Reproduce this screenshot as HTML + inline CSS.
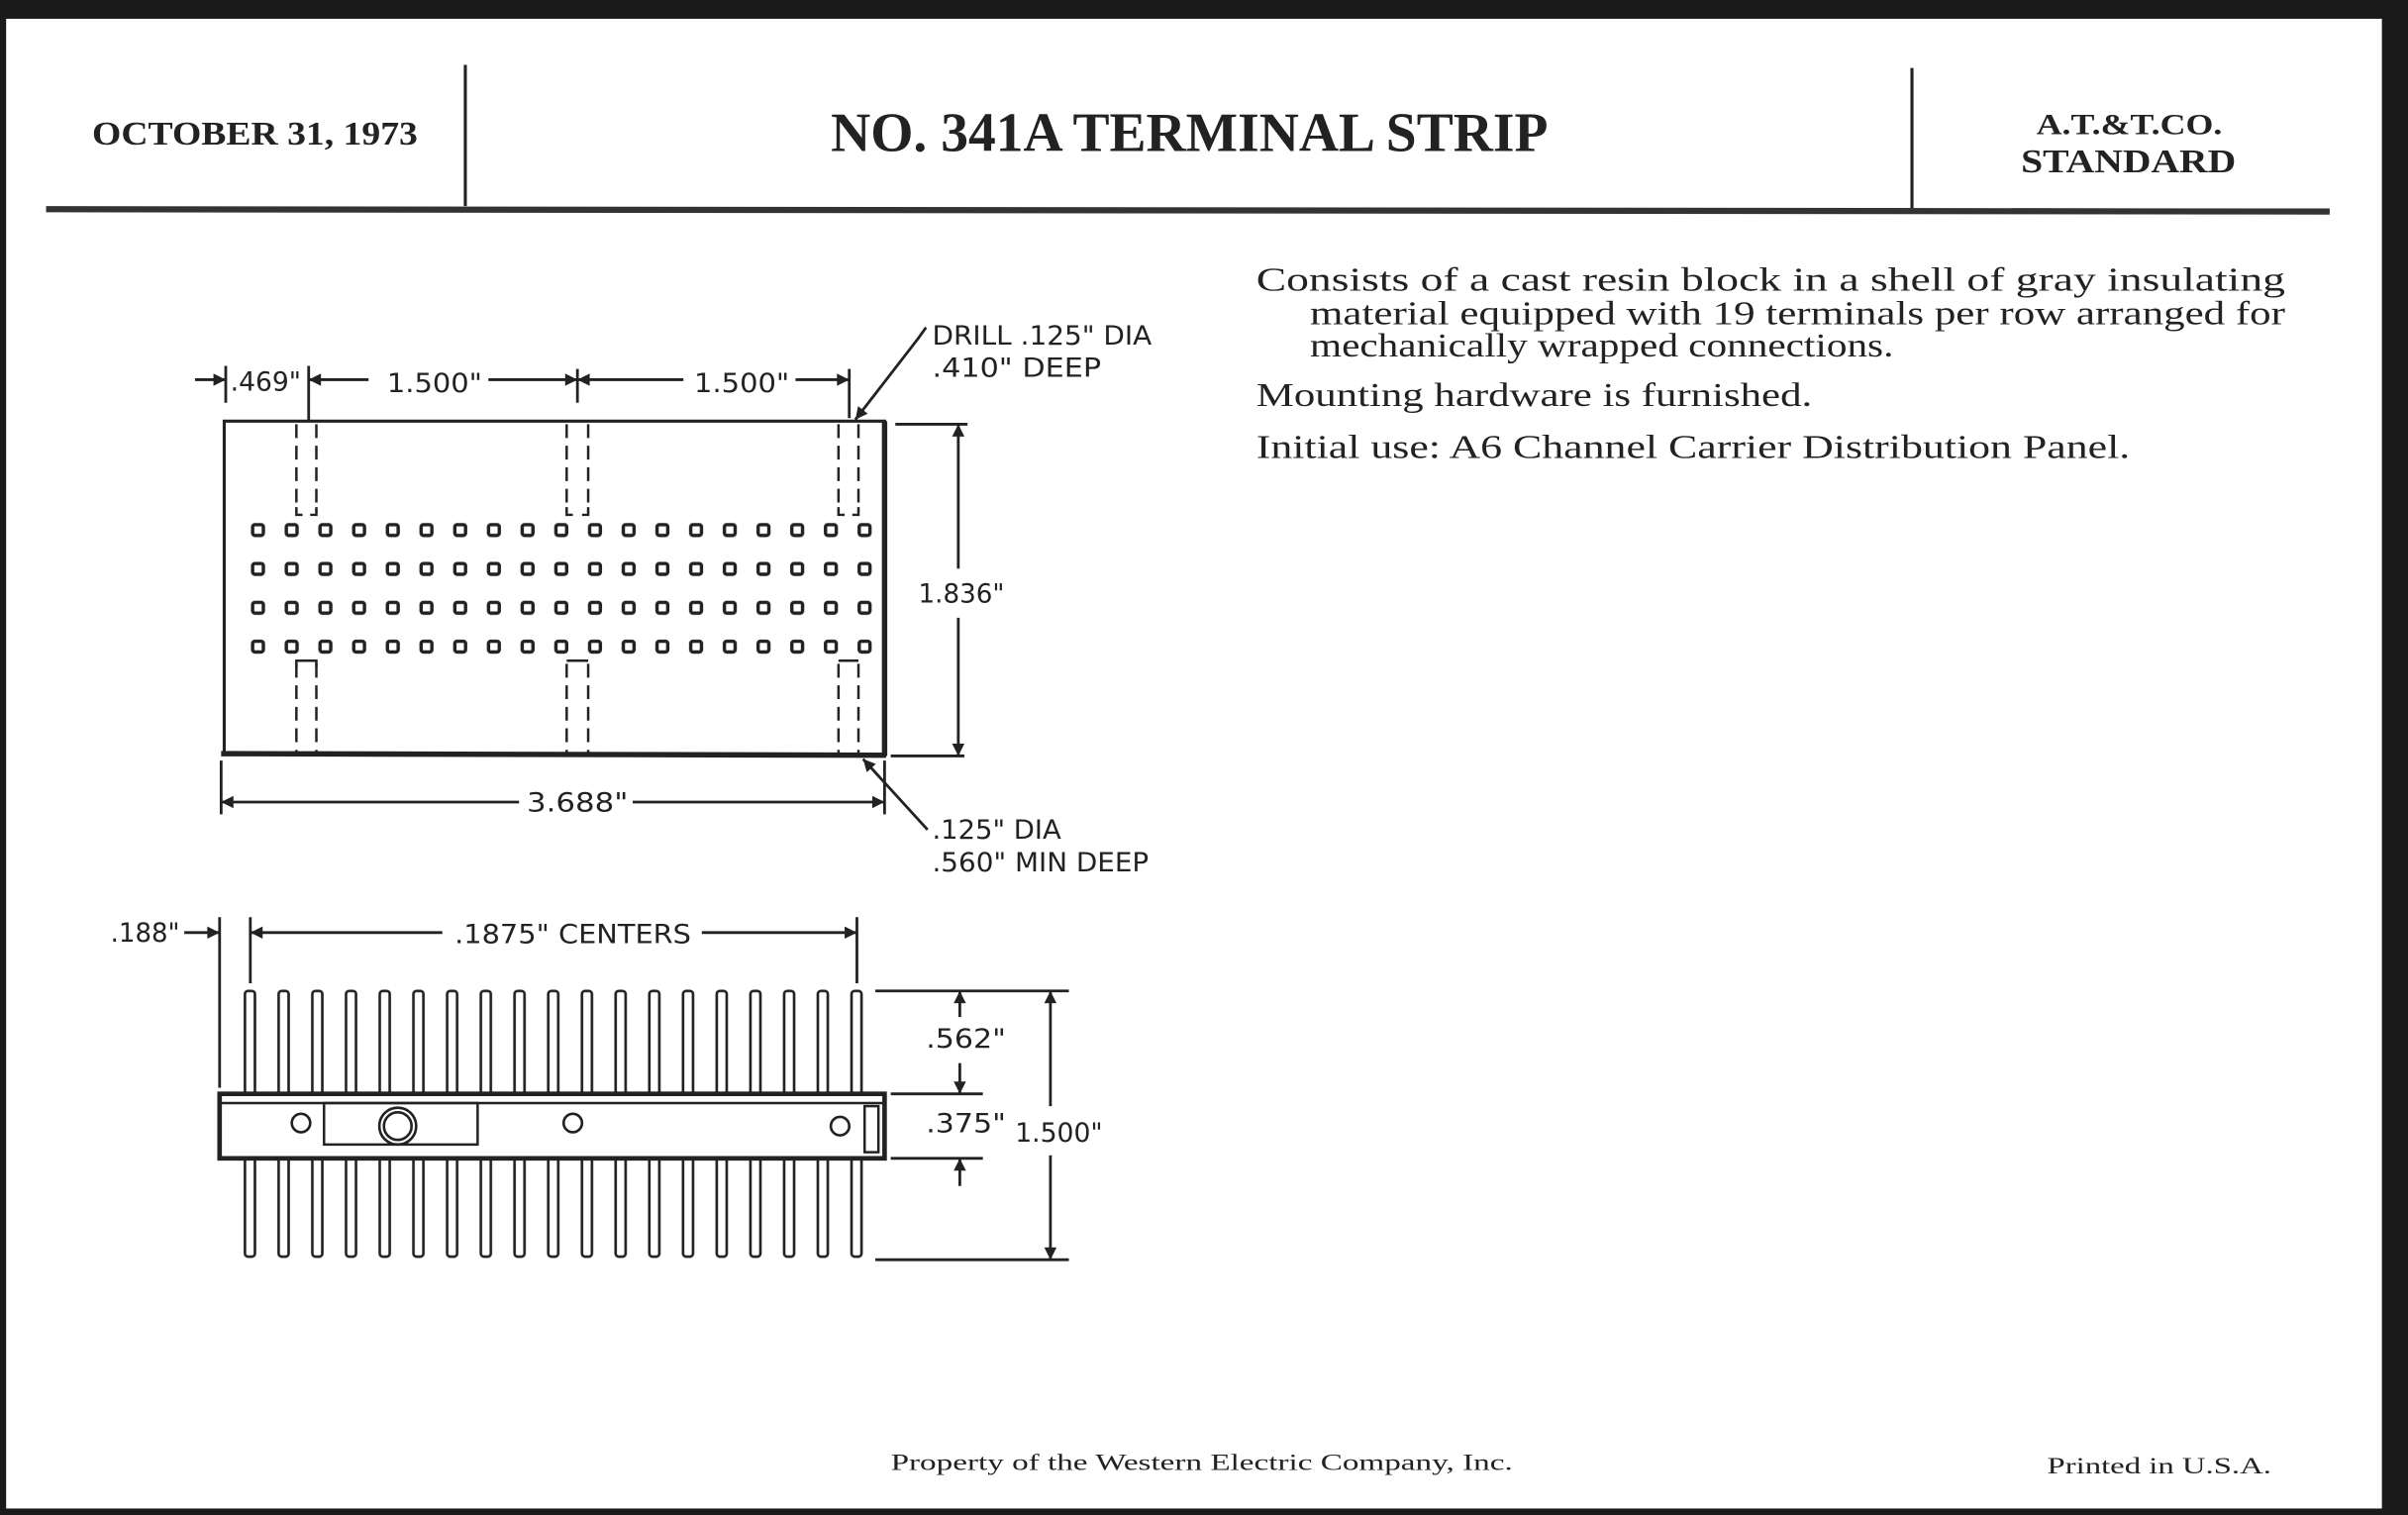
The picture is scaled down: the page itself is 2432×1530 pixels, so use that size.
<!DOCTYPE html>
<html><head><meta charset="utf-8"><style>
html,body{margin:0;padding:0;background:#1a1a1a;}
svg{display:block}
</style></head><body>
<svg width="2432" height="1530" viewBox="0 0 1568 986" xmlns="http://www.w3.org/2000/svg">
<defs>
<marker id="ar" viewBox="0 0 10 10" refX="10" refY="5" markerWidth="13" markerHeight="8" markerUnits="userSpaceOnUse" orient="auto-start-reverse">
<path d="M0,0 L10,5 L0,10 Z" fill="#222"/></marker>
<pattern id="sq" x="157" y="332.4" width="21.944" height="25.3" patternUnits="userSpaceOnUse">
<rect x="7.5" y="9" width="7" height="7" rx="1.5" fill="none" stroke="#222" stroke-width="2.2"/></pattern>
<pattern id="pin" x="152" y="0" width="21.944" height="986" patternUnits="userSpaceOnUse">
<rect x="7.5" y="645" width="6.5" height="80" rx="2" fill="#fff" stroke="#222" stroke-width="1.7"/>
<rect x="7.5" y="740" width="6.5" height="78" rx="2" fill="#fff" stroke="#222" stroke-width="1.7"/></pattern>
</defs>
<rect x="0" y="0" width="1568" height="986" fill="#1a1a1a"/>
<rect x="4" y="12" width="1547" height="970" fill="#fff"/>

<g font-family="Liberation Serif, serif" font-weight="bold" fill="#222">
<text x="60" y="94" font-size="22" textLength="212" lengthAdjust="spacingAndGlyphs">OCTOBER 31, 1973</text>
<text x="541" y="98" font-size="36" textLength="467" lengthAdjust="spacingAndGlyphs">NO. 341A TERMINAL STRIP</text>
<text x="1326" y="87" font-size="19" textLength="121" lengthAdjust="spacingAndGlyphs">A.T.&amp;T.CO.</text>
<text x="1316" y="112" font-size="22" textLength="140" lengthAdjust="spacingAndGlyphs">STANDARD</text>
</g>
<line x1="303" y1="42" x2="303" y2="134" stroke="#222" stroke-width="2"/>
<line x1="1245" y1="44" x2="1245" y2="137" stroke="#222" stroke-width="2"/>
<line x1="30" y1="136" x2="1517" y2="137.5" stroke="#333" stroke-width="4"/>

<g font-family="Liberation Serif, serif" fill="#222" font-size="22">
<text x="818" y="189" textLength="670" lengthAdjust="spacingAndGlyphs">Consists of a cast resin block in a shell of gray insulating</text>
<text x="853" y="211" textLength="635" lengthAdjust="spacingAndGlyphs">material equipped with 19 terminals per row arranged for</text>
<text x="853" y="232" textLength="380" lengthAdjust="spacingAndGlyphs">mechanically wrapped connections.</text>
<text x="818" y="264" textLength="362" lengthAdjust="spacingAndGlyphs">Mounting hardware is furnished.</text>
<text x="818" y="298" textLength="569" lengthAdjust="spacingAndGlyphs">Initial use:  A6 Channel Carrier Distribution Panel.</text>
</g>
<g font-family="Liberation Serif, serif" fill="#222" font-size="15">
<text x="580" y="957" textLength="405" lengthAdjust="spacingAndGlyphs">Property of the Western Electric Company, Inc.</text>
<text x="1333" y="959" textLength="146" lengthAdjust="spacingAndGlyphs">Printed in U.S.A.</text>
</g>

<!-- TOP VIEW -->
<g stroke="#222" fill="none">
<path d="M146,491 L146,274 L576,274 L576,491 Z" stroke-width="2"/>
<line x1="144" y1="490.5" x2="577" y2="491.5" stroke-width="3.5"/>
<line x1="576" y1="274" x2="576" y2="492" stroke-width="3.5"/>
<rect x="157" y="332.4" width="418" height="101.2" fill="url(#sq)" stroke="none"/>
<g stroke-width="1.6" stroke-dasharray="9,5">
<path d="M193,276 V333 M206,276 V333 M369,276 V333 M383,276 V333 M546,276 V333 M559,276 V333"/>
<path d="M193,432 V490 M206,432 V490 M369,432 V490 M383,432 V490 M546,432 V490 M559,432 V490"/>
</g>
<g stroke-width="1.6">
<path d="M193,330 v5 h4 M206,330 v5 h-4 M369,330 v5 h4 M383,330 v5 h-4 M546,330 v5 h4 M559,330 v5 h-4"/>
<path d="M193,434 v-4 h13 v4 M369,430 h14 M546,430 h13"/>
</g>
<g stroke-width="1.8">
<line x1="147" y1="238" x2="147" y2="262"/>
<line x1="201" y1="238" x2="201" y2="274"/>
<line x1="376" y1="240" x2="376" y2="262"/>
<line x1="553" y1="240" x2="553" y2="272"/>
<line x1="127" y1="247" x2="147" y2="247" marker-end="url(#ar)"/>
<line x1="240" y1="247" x2="201" y2="247" marker-end="url(#ar)"/>
<line x1="318" y1="247" x2="376" y2="247" marker-end="url(#ar)"/>
<line x1="445" y1="247" x2="376" y2="247" marker-end="url(#ar)"/>
<line x1="518" y1="247" x2="553" y2="247" marker-end="url(#ar)"/>
<line x1="583" y1="276" x2="630" y2="276"/>
<line x1="580" y1="492" x2="628" y2="492"/>
<line x1="624" y1="370" x2="624" y2="276" marker-end="url(#ar)"/>
<line x1="624" y1="402" x2="624" y2="492" marker-end="url(#ar)"/>
<line x1="144" y1="495" x2="144" y2="530"/>
<line x1="576" y1="495" x2="576" y2="530"/>
<line x1="338" y1="522" x2="144" y2="522" marker-end="url(#ar)"/>
<line x1="412" y1="522" x2="576" y2="522" marker-end="url(#ar)"/>
<polyline points="603,213 598,220 557,273" marker-end="url(#ar)"/>
<line x1="604" y1="540" x2="562" y2="494" marker-end="url(#ar)"/>
</g>
</g>
<g font-family="DejaVu Sans, sans-serif" fill="#222" font-size="17">
<text x="150" y="254" textLength="46" lengthAdjust="spacingAndGlyphs">.469"</text>
<text x="252" y="255" textLength="62" lengthAdjust="spacingAndGlyphs">1.500"</text>
<text x="452" y="255" textLength="62" lengthAdjust="spacingAndGlyphs">1.500"</text>
<text x="598" y="392" textLength="56" lengthAdjust="spacingAndGlyphs">1.836"</text>
<text x="343" y="528" textLength="66" lengthAdjust="spacingAndGlyphs">3.688"</text>
<text x="607" y="224" textLength="143" lengthAdjust="spacingAndGlyphs">DRILL .125" DIA</text>
<text x="607" y="245" textLength="110" lengthAdjust="spacingAndGlyphs">.410" DEEP</text>
<text x="607" y="546" textLength="84" lengthAdjust="spacingAndGlyphs">.125" DIA</text>
<text x="607" y="567" textLength="141" lengthAdjust="spacingAndGlyphs">.560" MIN DEEP</text>
<text x="72" y="613" textLength="45" lengthAdjust="spacingAndGlyphs">.188"</text>
<text x="296" y="614" textLength="154" lengthAdjust="spacingAndGlyphs">.1875" CENTERS</text>
<text x="603" y="682" textLength="52" lengthAdjust="spacingAndGlyphs">.562"</text>
<text x="603" y="737" textLength="52" lengthAdjust="spacingAndGlyphs">.375"</text>
<text x="661" y="743" textLength="57" lengthAdjust="spacingAndGlyphs">1.500"</text>
</g>

<!-- SIDE VIEW -->
<rect x="152" y="0" width="418" height="986" fill="url(#pin)"/>
<g stroke="#222" fill="none">
<rect x="143" y="712" width="433" height="42" fill="#fff" stroke-width="3"/>
<line x1="143" y1="718" x2="576" y2="718" stroke-width="1.6"/>
<rect x="563" y="720" width="9" height="30" stroke-width="1.6"/>
<rect x="211" y="718" width="100" height="27" stroke-width="1.6"/>
<circle cx="196" cy="731" r="6" stroke-width="1.7"/>
<circle cx="373" cy="731" r="6" stroke-width="1.7"/>
<circle cx="547" cy="733" r="6" stroke-width="1.7"/>
<circle cx="259" cy="733" r="12" fill="#fff" stroke-width="1.7"/>
<circle cx="259" cy="733" r="9" stroke-width="1.7"/>
<g stroke-width="1.8">
<line x1="143" y1="597" x2="143" y2="708"/>
<line x1="163" y1="597" x2="163" y2="640"/>
<line x1="558" y1="597" x2="558" y2="640"/>
<line x1="120" y1="607" x2="143" y2="607" marker-end="url(#ar)"/>
<line x1="288" y1="607" x2="163" y2="607" marker-end="url(#ar)"/>
<line x1="457" y1="607" x2="558" y2="607" marker-end="url(#ar)"/>
<line x1="570" y1="645" x2="696" y2="645"/>
<line x1="580" y1="712" x2="640" y2="712"/>
<line x1="580" y1="754" x2="640" y2="754"/>
<line x1="570" y1="820" x2="696" y2="820"/>
<line x1="625" y1="662" x2="625" y2="645" marker-end="url(#ar)"/>
<line x1="625" y1="692" x2="625" y2="712" marker-end="url(#ar)"/>
<line x1="625" y1="772" x2="625" y2="754" marker-end="url(#ar)"/>
<line x1="684" y1="720" x2="684" y2="645" marker-end="url(#ar)"/>
<line x1="684" y1="752" x2="684" y2="820" marker-end="url(#ar)"/>
</g>
</g>
</svg>
</body></html>
